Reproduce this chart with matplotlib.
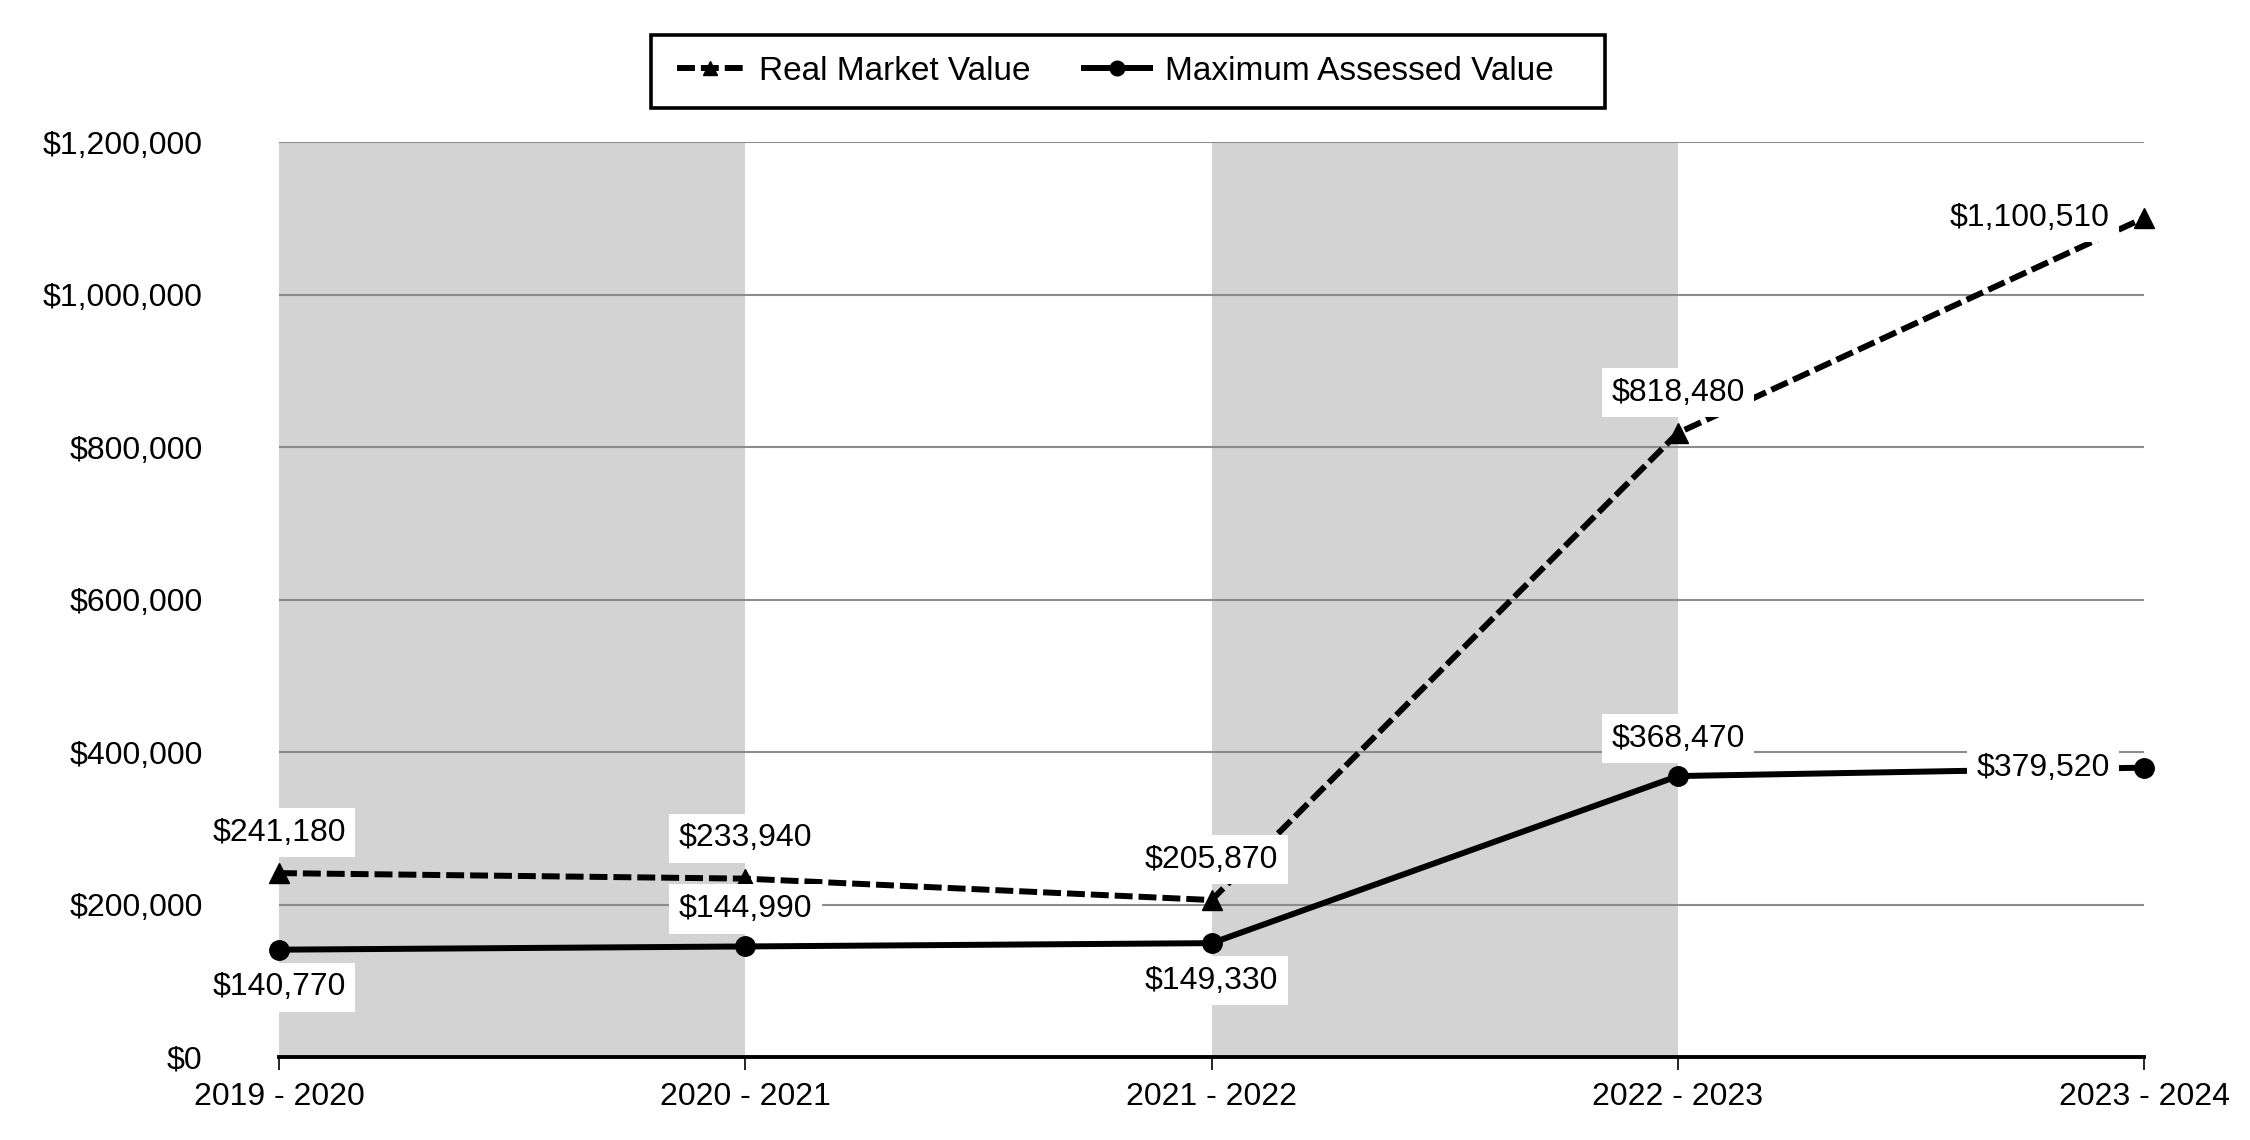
import matplotlib
matplotlib.use("Agg")
import matplotlib.pyplot as plt
from matplotlib.ticker import FuncFormatter
from matplotlib.patches import Rectangle

plt.rcParams['font.family'] = ['Liberation Sans', 'DejaVu Sans']

years = ["2019 - 2020", "2020 - 2021", "2021 - 2022", "2022 - 2023", "2023 - 2024"]
real_market_value = [241180, 233940, 205870, 818480, 1100510]
max_assessed_value = [140770, 144990, 149330, 368470, 379520]

# label placement: 'above', 'below', 'left'
rmv_place = ['above', 'above', 'above', 'above', 'left']
mav_place = ['below', 'above', 'below', 'above', 'left']

W, H = 2250, 1140
fig = plt.figure(figsize=(W / 100, H / 100), dpi=100)
ax = fig.add_axes([0.124, 0.0728, 0.829, 0.8026])

x = list(range(len(years)))
ax.set_xlim(0, len(years) - 1)
ax.set_ylim(0, 1200000)

for i in range(0, len(years) - 1, 2):
    ax.axvspan(i, i + 1, color='#d3d3d3', zorder=0, lw=0)

ax.set_yticks(range(0, 1200001, 200000))
ax.yaxis.set_major_formatter(FuncFormatter(lambda v, p: f"${int(v):,}"))
ax.grid(axis='y', color='#8c8c8c', lw=1.5, zorder=1)
ax.set_axisbelow(False)
for gl in ax.get_ygridlines():
    gl.set_zorder(1)

ax.plot(x, real_market_value, color='black', lw=4.3, dashes=(3, 1),
        marker='^', markersize=14, zorder=3, clip_on=False,
        label='Real Market Value')
ax.plot(x, max_assessed_value, color='black', lw=4.3,
        marker='o', markersize=14, zorder=3, clip_on=False,
        label='Maximum Assessed Value')

def label(xi, yi, place, dy=29):
    if place == 'above':
        off, ha, va = (0, dy), 'center', 'center'
    elif place == 'below':
        off, ha, va = (0, -dy), 'center', 'center'
    else:
        off, ha, va = (-25, 0), 'right', 'center'
    ax.annotate(f"${yi:,}", (xi, yi), xytext=off, textcoords='offset points',
                ha=ha, va=va, fontsize=23, zorder=5, annotation_clip=False,
                bbox=dict(boxstyle='square,pad=0.3', fc='white', ec='none'))

for xi, yi, pl in zip(x, real_market_value, rmv_place):
    label(xi, yi, pl)
for xi, yi, pl in zip(x, max_assessed_value, mav_place):
    label(xi, yi, pl, dy=27)

ax.set_xticks(x)
ax.set_xticklabels(years)
ax.tick_params(axis='x', length=9, width=1.2, pad=9, labelsize=23, direction='out')
ax.tick_params(axis='y', length=0, pad=55, labelsize=23)

for s in ['left', 'right', 'top']:
    ax.spines[s].set_visible(False)
ax.spines['bottom'].set_linewidth(2.8)
ax.spines['bottom'].set_zorder(4)

# legend frame drawn as a figure rectangle
box_l, box_r, box_t, box_b = 651, 1605, 35, 108
fig.patches.append(Rectangle((box_l / W, 1 - box_b / H), (box_r - box_l) / W,
                             (box_b - box_t) / H, transform=fig.transFigure,
                             fc='white', ec='black', lw=2.6, zorder=0))

leg = fig.legend(loc='center left', bbox_to_anchor=(677 / W, 1 - 71.5 / H), ncol=2,
                 fontsize=24, frameon=False,
                 handlelength=2.0, handletextpad=0.45, columnspacing=1.6,
                 borderpad=0.0, borderaxespad=0.0, markerscale=0.75)

fig.savefig('out.png', dpi=100)
